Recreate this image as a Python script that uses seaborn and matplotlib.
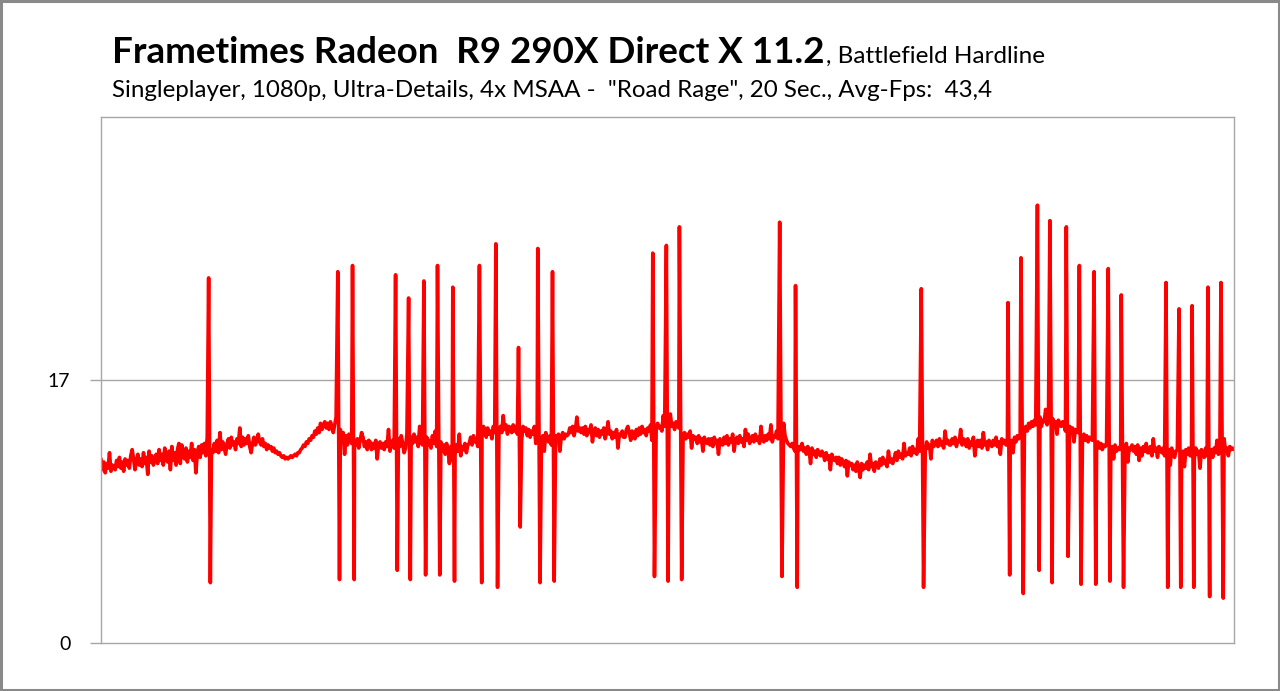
import numpy as np
import pandas as pd
import matplotlib
matplotlib.use("Agg")
import matplotlib.pyplot as plt
from matplotlib.patches import Rectangle
import seaborn as sns

# frametimes (ms) between the stutters, one value every 0.025 s over 20 s
baseline_ms = [
    # 0 s
    11.9, 11.2, 11.7, 11.0, 11.6, 11.3, 12.3, 11.1, 11.5, 11.4, 11.2, 11.8, 11.4, 12.0, 11.3, 11.7, 11.1, 11.9, 11.5, 11.8,
    11.3, 12.1, 12.5, 11.9, 11.2, 11.8, 12.2, 11.5, 11.9, 11.4, 12.3, 11.6, 12.0, 10.9, 12.4, 11.7, 12.1, 11.5, 11.9, 12.2,
    # 1 s
    11.6, 12.5, 11.8, 12.2, 11.5, 12.6, 12.0, 11.7, 12.4, 11.2, 12.7, 11.8, 12.3, 11.5, 12.5, 12.9, 11.6, 12.8, 12.1, 11.9,
    12.6, 11.7, 12.4, 12.0, 12.9, 11.8, 12.5, 11.0, 12.3, 12.7, 12.0, 12.8, 12.3, 12.9, 12.1, 13.3, 12.2, 13.0, 12.5, 12.3,
    # 2 s
    12.9, 12.4, 13.1, 12.3, 13.6, 12.5, 13.0, 12.6, 12.2, 12.9, 13.2, 12.6, 13.3, 12.8, 13.0, 12.5, 13.2, 12.9, 13.9, 12.7,
    13.3, 12.8, 13.2, 12.9, 13.4, 12.7, 12.3, 12.9, 13.3, 12.8, 13.1, 13.5, 13.0, 12.8, 13.2, 12.7, 12.9, 12.5, 12.8, 12.6,
    # 3 s
    12.7, 12.4, 12.6, 12.3, 12.4, 12.2, 12.3, 12.1, 12.0, 12.1, 11.9, 12.0, 11.9, 12.0, 12.1, 12.0, 12.1, 12.2, 12.1, 12.3,
    12.3, 12.5, 12.6, 12.8, 12.7, 13.0, 12.9, 13.2, 13.1, 13.4, 13.3, 13.7, 13.5, 13.9, 13.6, 14.2, 13.8, 14.1, 14.3, 13.9,
    # 4 s
    14.2, 13.8, 14.3, 14.0, 13.6, 14.1, 14.6, 14.0, 13.5, 13.8, 13.2, 13.6, 12.2, 13.4, 12.8, 13.5, 13.1, 12.9, 13.3, 13.0,
    12.8, 13.2, 12.6, 13.1, 13.6, 13.3, 12.7, 13.0, 12.5, 13.1, 13.0, 12.5, 12.9, 12.6, 13.1, 11.9, 12.8, 13.0, 12.6, 12.9,
    # 5 s
    12.5, 13.0, 12.7, 13.8, 12.4, 12.9, 13.1, 12.6, 13.3, 12.8, 13.2, 12.7, 13.4, 12.9, 12.3, 12.6, 13.5, 13.0, 12.8, 13.3,
    12.9, 13.5, 13.0, 13.3, 12.7, 14.0, 13.1, 12.8, 13.4, 13.2, 13.3, 12.8, 13.1, 12.6, 13.4, 12.9, 13.7, 12.7, 13.0, 12.8,
    # 6 s
    13.0, 12.4, 12.8, 12.2, 12.9, 12.5, 11.6, 12.7, 11.8, 12.9, 12.2, 12.8, 12.4, 13.5, 12.1, 12.7, 12.5, 12.9, 12.3, 12.8,
    12.9, 13.3, 12.8, 13.4, 13.0, 13.2, 12.7, 13.5, 13.1, 13.3, 14.0, 13.8, 13.3, 13.9, 13.5, 13.7, 13.2, 14.0, 13.6, 13.8,
    # 7 s
    14.2, 13.7, 14.0, 13.6, 14.7, 13.8, 14.1, 13.5, 14.0, 13.9, 13.6, 14.1, 13.7, 14.0, 13.5, 14.2, 13.8, 13.1, 14.0, 13.7,
    13.9, 13.4, 13.8, 13.3, 13.7, 13.5, 14.0, 12.9, 13.6, 13.8, 13.5, 13.0, 13.4, 12.4, 13.6, 13.2, 13.0, 13.4, 12.8, 13.3,
    # 8 s
    13.0, 13.4, 13.1, 13.5, 12.4, 13.3, 13.6, 13.2, 13.5, 13.4, 13.5, 13.9, 13.6, 14.0, 13.4, 13.8, 14.6, 13.7, 13.9, 13.6,
    13.9, 13.5, 14.0, 13.4, 13.8, 13.6, 14.1, 13.0, 13.7, 13.9, 13.4, 13.8, 13.3, 13.7, 13.5, 13.9, 13.2, 13.6, 14.3, 13.5,
    # 9 s
    13.7, 13.2, 13.6, 13.3, 13.8, 12.6, 13.5, 13.4, 13.7, 13.3, 13.3, 13.8, 14.0, 13.6, 13.1, 13.7, 13.5, 13.2, 13.8, 13.4,
    13.9, 13.5, 14.0, 13.6, 13.8, 13.4, 13.9, 13.7, 14.1, 13.1, 13.7, 14.1, 13.8, 14.2, 13.9, 14.0, 13.7, 14.7, 14.0, 14.2,
    # 10 s
    14.3, 13.9, 14.8, 14.0, 14.2, 13.8, 14.3, 14.1, 13.9, 14.0, 13.8, 13.4, 13.6, 13.2, 13.5, 13.3, 13.7, 12.6, 13.4, 13.2,
    13.3, 12.9, 13.4, 13.0, 13.2, 12.4, 13.3, 13.0, 12.9, 13.2, 12.8, 13.2, 12.7, 13.3, 12.9, 13.1, 12.2, 13.2, 13.0, 12.8,
    # 11 s
    13.3, 12.9, 13.4, 12.8, 13.2, 13.0, 13.5, 12.4, 13.1, 13.3, 12.9, 13.4, 13.0, 13.2, 12.7, 13.8, 13.1, 13.5, 12.9, 13.2,
    13.4, 13.0, 13.5, 13.1, 13.3, 12.9, 14.0, 13.2, 13.0, 13.4, 13.1, 13.5, 13.2, 14.1, 13.0, 13.4, 13.3, 13.7, 13.2, 13.5,
    # 12 s
    13.5, 13.2, 14.2, 13.4, 13.1, 12.9, 12.8, 12.7, 12.9, 12.6, 12.4, 13.3, 12.3, 12.7, 12.5, 12.9, 12.4, 12.6, 12.2, 12.7,
    12.5, 11.6, 12.6, 12.2, 12.4, 12.0, 12.5, 12.3, 12.1, 12.4, 12.2, 11.8, 12.3, 11.9, 12.1, 11.2, 12.2, 11.9, 11.8, 12.0,
    # 13 s
    11.6, 12.0, 11.5, 11.9, 11.7, 11.4, 11.8, 10.8, 11.7, 11.5, 11.6, 11.2, 11.5, 11.1, 11.7, 11.3, 10.7, 11.6, 11.2, 11.5,
    11.3, 11.7, 11.2, 12.2, 11.4, 11.6, 11.1, 11.7, 11.5, 11.3, 11.9, 11.5, 12.0, 11.6, 11.8, 11.4, 12.4, 11.7, 11.9, 11.6,
    # 14 s
    11.9, 12.3, 11.8, 12.4, 12.0, 12.2, 11.9, 12.9, 12.1, 12.3, 12.2, 12.6, 12.1, 12.7, 12.3, 12.5, 12.2, 13.2, 12.4, 12.6,
    12.5, 12.9, 12.4, 13.0, 12.6, 12.8, 11.9, 13.1, 12.7, 12.9, 13.1, 12.7, 13.2, 12.8, 13.0, 12.6, 13.7, 12.9, 13.1, 12.8,
    # 15 s
    12.8, 13.2, 12.9, 13.3, 12.7, 13.1, 13.0, 13.8, 12.8, 13.2, 13.1, 12.7, 13.2, 12.6, 13.0, 12.8, 13.3, 12.1, 12.9, 13.1,
    12.7, 13.1, 12.6, 13.6, 12.8, 13.0, 12.5, 13.1, 12.9, 12.7, 13.1, 12.8, 13.3, 12.7, 13.0, 12.2, 13.2, 12.9, 13.1, 12.8,
    # 16 s
    12.8, 13.2, 12.9, 13.1, 12.3, 13.3, 13.0, 13.4, 13.2, 13.5, 13.4, 13.8, 13.6, 14.0, 13.7, 14.2, 13.9, 14.3, 14.0, 14.4,
    14.1, 14.5, 14.2, 14.6, 14.0, 14.4, 14.3, 15.1, 14.1, 14.5, 14.4, 14.0, 14.5, 14.1, 14.3, 13.5, 14.4, 14.2, 14.0, 14.3,
    # 17 s
    14.1, 13.7, 14.2, 13.8, 14.0, 13.6, 13.9, 13.0, 13.8, 13.7, 13.6, 13.2, 13.7, 13.3, 13.5, 13.1, 13.4, 13.0, 13.3, 13.2,
    13.1, 12.7, 13.6, 12.8, 13.0, 12.6, 12.9, 12.5, 12.8, 12.7, 12.8, 12.4, 12.9, 12.5, 12.7, 11.9, 12.8, 12.4, 12.6, 12.5,
    # 18 s
    12.8, 12.3, 12.7, 12.4, 12.9, 11.7, 12.6, 12.5, 12.8, 12.4, 12.7, 12.2, 12.8, 11.8, 12.6, 12.1, 12.7, 12.4, 12.9, 12.3,
    12.3, 12.7, 12.1, 13.2, 12.4, 12.6, 12.0, 12.7, 12.5, 12.3, 12.6, 12.1, 12.7, 12.2, 12.5, 11.5, 12.6, 12.3, 12.0, 12.4,
    # 19 s
    12.5, 12.0, 12.6, 12.1, 12.4, 11.4, 12.5, 12.2, 12.6, 12.1, 12.1, 12.5, 11.9, 12.6, 12.2, 12.4, 11.3, 12.5, 12.3, 12.0,
    12.6, 12.1, 12.7, 12.2, 12.5, 12.0, 12.6, 12.3, 13.1, 12.2, 12.3, 12.7, 12.2, 13.2, 12.4, 12.6, 12.1, 12.7, 12.5, 12.6,
    # 20 s
    12.5,
]
sample_step_s = 0.025

# stutters: one long frame followed by one short frame
spike_up_t = [1.90, 4.18, 4.44, 5.20, 5.43, 5.70, 5.94, 6.21, 6.68, 6.97, 7.37, 7.71, 7.97, 9.74, 9.98, 10.21, 11.98,
              12.26, 14.48, 16.01, 16.24, 16.53, 16.75, 17.04, 17.27, 17.53, 17.78, 18.01, 18.80, 19.03, 19.26, 19.54, 19.77]
spike_up_ms = [23.6, 24.0, 24.4, 23.8, 22.3, 23.4, 24.4, 23.0, 24.4, 25.8, 19.1, 25.5, 24.0, 25.2, 25.7, 26.9, 27.2,
               23.1, 22.9, 22.0, 24.9, 28.3, 27.3, 26.9, 24.4, 24.0, 24.2, 22.5, 23.3, 21.6, 21.8, 23.0, 23.3]
spike_down_t = [1.93, 4.21, 4.47, 5.23, 5.46, 5.73, 5.98, 6.24, 6.72, 7.00, 7.40, 7.75, 8.00, 9.77, 10.01, 10.25, 12.02,
                12.29, 14.52, 16.04, 16.28, 16.56, 16.79, 17.07, 17.30, 17.56, 17.81, 18.05, 18.83, 19.06, 19.29, 19.57, 19.81]
spike_down_ms = [3.9, 4.1, 4.1, 4.7, 4.1, 4.4, 4.4, 4.0, 3.9, 3.6, 7.5, 3.9, 4.0, 4.3, 4.0, 4.1, 4.3,
                 3.6, 3.6, 4.4, 3.2, 4.7, 3.9, 5.6, 3.8, 3.8, 4.0, 3.6, 3.6, 3.6, 3.6, 3.0, 2.9]

y_ticks = [0, 17]
title_main = "Frametimes Radeon  R9 290X Direct X 11.2"
title_game = ", Battlefield Hardline"
subtitle = 'Singleplayer, 1080p, Ultra-Details, 4x MSAA -  "Road Rage", 20 Sec., Avg-Fps:  43,4'

# merge baseline and stutter frames into one series
base_t = np.arange(len(baseline_ms)) * sample_step_s
rows = []
for t, v in zip(base_t, baseline_ms):
    if any(a - 0.005 <= t <= b + 0.005 for a, b in zip(spike_up_t, spike_down_t)):
        continue
    rows.append((t, v))
rows += list(zip(spike_up_t, spike_up_ms)) + list(zip(spike_down_t, spike_down_ms))
df = pd.DataFrame(rows, columns=["time", "frametime"]).sort_values("time").reset_index(drop=True)

sns.set_theme(style="white")
plt.rcParams["font.family"] = ["Lato", "DejaVu Sans"]

fig = plt.figure(figsize=(12.8, 6.91), dpi=100)
ax = fig.add_axes([101 / 1280, 1 - 643 / 691, 1133 / 1280, 526 / 691])

sns.lineplot(data=df, x="time", y="frametime", ax=ax, color="#ff0000", linewidth=2.6,
             estimator=None, sort=False)

ax.set_xlim(0, 20)
ax.set_ylim(0, 34)
ax.set_yticks(y_ticks)
ax.set_yticklabels([str(v) for v in y_ticks])
ax.set_xticks([])
ax.set_xlabel("")
ax.set_ylabel("")
ax.axhline(17, color="#a6a6a6", linewidth=1.0, zorder=0)
for s in ax.spines.values():
    s.set_color("#a6a6a6")
    s.set_linewidth(1.0)
ax.tick_params(axis="y", length=8, width=1.0, color="#a6a6a6", pad=14, labelsize=14,
               labelcolor="#000000", left=True)

# titles
t1 = fig.text(112 / 1280, 1 - 63 / 691, title_main, fontsize=26.5, fontweight="bold", color="#000000",
              va="baseline", ha="left")
fig.canvas.draw()
bb = t1.get_window_extent()
fig.text(bb.x1 / 1280 + 0.001, 1 - 63 / 691, title_game, fontsize=17.5, color="#000000",
         va="baseline", ha="left")
fig.text(112 / 1280, 1 - 97 / 691, subtitle, fontsize=17.4, color="#000000", va="baseline", ha="left")

# outer chart border
fig.patches.append(Rectangle((0.001, 0.0015), 0.998, 0.997, transform=fig.transFigure, fill=False,
                             edgecolor="#898989", linewidth=2.2))

fig.savefig("out.png", dpi=100)
